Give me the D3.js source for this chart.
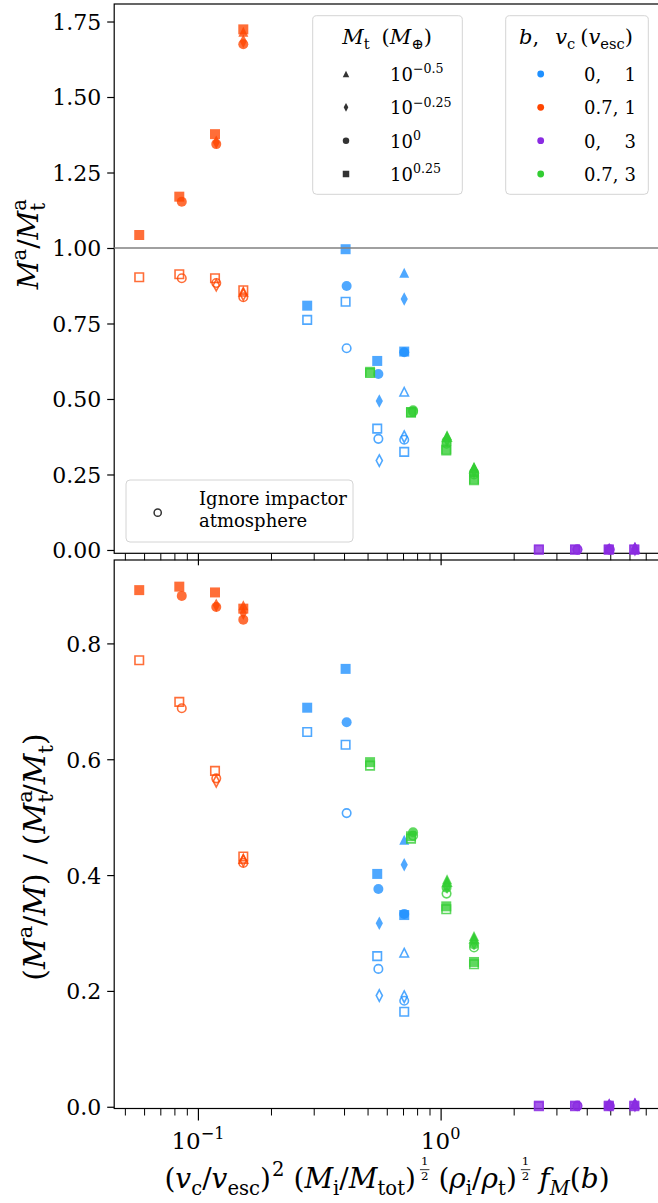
<!DOCTYPE html>
<html>
<head>
<meta charset="utf-8">
<script src="https://cdn.jsdelivr.net/npm/d3@7"></script>
<style>
  body { margin: 0; background: #fff; }
  svg text { font-family: "DejaVu Serif", "Liberation Serif", serif; fill: #000; }
</style>
</head>
<body>
<div id="chart"></div>
<script>
// ---------- data ----------
// legend entries
const groupNames = [["0,", "1"], ["0.7,", "1"], ["0,", "3"], ["0.7,", "3"]];
const groupColors = ["#1e90ff", "#ff4500", "#8a2be2", "#32cd32"];
const massExps = ["−0.5", "−0.25", "0", "0.25"];
const massMarkers = ["^", "d", "o", "s"];

// each point: [marker, x, top filled, top open, bottom filled, bottom open]
const bluePts = [
    ["s", 0.282, 0.809, 0.762, 0.689, 0.647],
    ["s", 0.406, 0.996, 0.822, 0.756, 0.625],
    ["o", 0.410, 0.874, 0.668, 0.664, 0.507],
    ["s", 0.548, 0.626, 0.402, 0.402, 0.260],
    ["o", 0.554, 0.583, 0.368, 0.376, 0.238],
    ["d", 0.559, 0.493, 0.296, 0.317, 0.192],
    ["^", 0.708, 0.918, 0.524, 0.461, 0.266],
    ["d", 0.708, 0.831, 0.375, 0.418, 0.190],
    ["o", 0.708, 0.655, 0.365, 0.333, 0.183],
    ["s", 0.708, 0.657, 0.325, 0.331, 0.164]
];
const orangePts = [
    ["s", 0.0573, 1.043, 0.903, 0.892, 0.771],
    ["s", 0.0838, 1.170, 0.913, 0.898, 0.699],
    ["o", 0.0858, 1.153, 0.900, 0.882, 0.688],
    ["s", 0.1176, 1.377, 0.900, 0.888, 0.580],
    ["d", 0.1190, 1.350, 0.877, 0.866, 0.562],
    ["o", 0.1190, 1.344, 0.884, 0.863, 0.567],
    ["^", 0.1538, 1.716, 0.855, 0.866, 0.428],
    ["d", 0.1538, 1.685, 0.846, 0.852, 0.425],
    ["o", 0.1538, 1.675, 0.837, 0.841, 0.421],
    ["s", 0.1538, 1.724, 0.860, 0.860, 0.432]
];
const purplePts = [
    ["s", 2.54, 0.002, 0.001, 0.002, 0.001],
    ["s", 3.58, 0.002, 0.001, 0.002, 0.001],
    ["o", 3.66, 0.002, 0.001, 0.002, 0.001],
    ["s", 4.93, 0.002, 0.001, 0.002, 0.001],
    ["o", 4.97, 0.002, 0.001, 0.002, 0.001],
    ["^", 4.95, 0.006, 0.004, 0.006, 0.004],
    ["s", 6.28, 0.002, 0.001, 0.002, 0.001],
    ["^", 6.32, 0.006, 0.004, 0.006, 0.004],
    ["d", 6.32, 0.004, 0.003, 0.004, 0.003]
];
const greenPts = [
    ["s", 0.512, 0.590, 0.586, 0.595, 0.589],
    ["s", 0.755, 0.457, 0.455, 0.467, 0.463],
    ["o", 0.770, 0.463, 0.458, 0.474, 0.468],
    ["^", 1.063, 0.380, 0.374, 0.393, 0.388],
    ["d", 1.063, 0.368, 0.364, 0.385, 0.380],
    ["o", 1.058, 0.360, 0.352, 0.378, 0.368],
    ["s", 1.055, 0.333, 0.330, 0.346, 0.341],
    ["^", 1.373, 0.276, 0.270, 0.295, 0.290],
    ["d", 1.373, 0.266, 0.262, 0.288, 0.283],
    ["o", 1.373, 0.256, 0.250, 0.280, 0.275],
    ["s", 1.373, 0.235, 0.231, 0.250, 0.246]
];
const allGroups = [bluePts, orangePts, purplePts, greenPts];

const topTicks = [0, 0.25, 0.5, 0.75, 1.0, 1.25, 1.5, 1.75];
const botTicks = [0, 0.2, 0.4, 0.6, 0.8];
const xMajor = [0.1, 1];
const xMinor = [0.05, 0.06, 0.07, 0.08, 0.09, 0.2, 0.3, 0.4, 0.5, 0.6, 0.7, 0.8, 0.9, 2, 3, 4, 5, 6, 7];

// ---------- set up ----------
const W = 658, H = 1203;
const svg = d3.select("#chart").append("svg").attr("width", W).attr("height", H);

const x = d3.scaleLog().domain([0.04519, 7.865]).range([114.2, 658]);
const yTop = d3.scaleLinear().domain([-0.011, 1.808]).range([553.3, 4]);
const yBot = d3.scaleLinear().domain([-0.003, 0.944]).range([1108.5, 560]);

// little helper that lays out "math" text piece by piece
const I = (t, o = {}) => ({t, i: true, ...o});
const R = (t, o = {}) => ({t, ...o});
const sub = (t, o = {}) => ({t, s: 0.7, d: 0.25, ...o});
const sup = (t, o = {}) => ({t, s: 0.7, d: -0.42, ...o});

function mathText(parent, pieces, size) {
    let g = parent.append("g");
    let cx = 0;
    pieces.forEach(p => {
        if (p.f) {
            // small stacked fraction used as an exponent
            let fs = size * 0.42;
            let a = g.append("text").attr("font-size", fs).attr("y", -size * 0.81).text(p.f[0]);
            let b = g.append("text").attr("font-size", fs).attr("y", -size * 0.27).text(p.f[1]);
            let wa = a.node().getComputedTextLength(), wb = b.node().getComputedTextLength();
            let w = Math.max(wa, wb);
            a.attr("x", cx + 1 + (w - wa) / 2);
            b.attr("x", cx + 1 + (w - wb) / 2);
            g.append("line").attr("x1", cx).attr("x2", cx + w + 2)
                .attr("y1", -size * 0.655).attr("y2", -size * 0.655)
                .attr("stroke", "#000").attr("stroke-width", 0.8);
            cx += w + 2 + (p.gap || 0);
            return;
        }
        let t = g.append("text")
            .attr("x", cx)
            .attr("y", (p.d || 0) * size)
            .attr("font-size", size * (p.s || 1))
            .attr("font-style", p.i ? "italic" : "normal")
            .text(p.t);
        if (!p.na) cx += t.node().getComputedTextLength() + (p.gap || 0);
    });
    g.w = cx;
    return g;
}

function place(g, x0, y0, anchor, rot) {
    let dx = anchor === "middle" ? -g.w / 2 : anchor === "end" ? -g.w : 0;
    g.attr("transform", `translate(${x0},${y0})` + (rot ? ` rotate(${rot})` : "") + ` translate(${dx},0)`);
}

function markerPath(m, s) {
    let h = s / 2;
    if (m === "s") return `M${-h},${-h}H${h}V${h}H${-h}Z`;
    if (m === "o") return d3.symbol(d3.symbolCircle, Math.PI * h * h)();
    if (m === "^") return `M0,${-h}L${h},${h}L${-h},${h}Z`;
    return `M0,${-h * 1.35}L${h * 0.72},0L0,${h * 1.35}L${-h * 0.72},0Z`;
}

// ---------- panels ----------
function drawPanel(y, ticks, fmt, valIdx, showXLabels) {
    let panel = svg.append("g");
    let y0 = y.range()[0];

    // y axis
    let ya = panel.append("g")
        .attr("transform", "translate(114.2,0)")
        .call(d3.axisLeft(y).tickValues(ticks).tickSize(7).tickPadding(6).tickFormat(d3.format(fmt)));
    ya.select(".domain").remove();
    ya.selectAll("line").attr("stroke-width", 1.2);
    ya.selectAll("text").attr("font-size", 22).attr("font-family", "DejaVu Serif").attr("dy", "0.36em");

    // x axis ticks
    let xa = panel.append("g")
        .attr("transform", `translate(0,${y0})`)
        .call(d3.axisBottom(x).tickValues(xMajor.concat(xMinor)).tickFormat(""));
    xa.select(".domain").remove();
    xa.selectAll("line")
        .attr("y2", d => xMajor.includes(d) ? 12 : 7)
        .attr("stroke-width", d => xMajor.includes(d) ? 1.2 : 1);

    if (showXLabels) {
        xMajor.forEach((v, i) => {
            let lab = mathText(panel, [R("10"), sup(i === 0 ? "−1" : "0")], 23);
            place(lab, x(v), y0 + 40, "middle");
        });
    }

    // frame
    panel.append("rect")
        .attr("x", 114.2).attr("y", y.range()[1])
        .attr("width", 660 - 114.2).attr("height", y0 - y.range()[1])
        .attr("fill", "none").attr("stroke", "#000").attr("stroke-width", 1.2);

    // points: filled then open for every group
    let marks = panel.append("g");
    allGroups.forEach((pts, gi) => {
        let col = groupColors[gi];
        marks.selectAll(null)
            .data(pts)
            .enter()
            .append("path")
            .attr("d", d => markerPath(d[0], 10))
            .attr("transform", d => `translate(${x(d[1])},${y(d[valIdx])})`)
            .attr("fill", col)
            .attr("fill-opacity", 0.78);
        marks.selectAll(null)
            .data(pts)
            .enter()
            .append("path")
            .attr("d", d => markerPath(d[0], 8.5))
            .attr("transform", d => `translate(${x(d[1])},${y(d[valIdx + 1])})`)
            .attr("fill", "none")
            .attr("stroke", col)
            .attr("stroke-opacity", 0.78)
            .attr("stroke-width", 1.6);
    });
    return panel;
}

let topPanel = drawPanel(yTop, topTicks, ".2f", 2, false);
let botPanel = drawPanel(yBot, botTicks, ".1f", 4, true);

// reference line at 1
topPanel.append("line")
    .attr("x1", 114.2).attr("x2", 658)
    .attr("y1", yTop(1)).attr("y2", yTop(1))
    .attr("stroke", "#808080").attr("stroke-width", 1.5);

// ---------- axis labels ----------
let ylTop = mathText(svg, [I("M"), sup("a"), R("/"), I("M"), sup("a", {na: true}), sub("t")], 28);
place(ylTop, 38, 246, "middle", -90);

let ylBot = mathText(svg, [R("("), I("M"), sup("a"), R("/"), I("M"), R(")", {gap: 9}), R("/", {gap: 9}),
    R("("), I("M"), sup("a", {na: true}), sub("t"), R("/"), I("M"), sub("t"), R(")")], 30);
place(ylBot, 45, 857, "middle", -90);

let xl = mathText(svg, [R("("), I("v"), sub("c"), R("/"), I("v"), sub("esc"), R(")", {gap: 1}), sup("2", {gap: 9}),
    R("("), I("M"), sub("i"), R("/"), I("M"), sub("tot"), R(")", {gap: 4}), {f: ["1", "2"], gap: 9},
    R("("), I("ρ"), sub("i"), R("/"), I("ρ"), sub("t"), R(")", {gap: 4}), {f: ["1", "2"], gap: 9},
    I("f"), sub("M", {i: true}), R("("), I("b"), R(")")], 28);
place(xl, 387, 1188, "middle");

// ---------- legends ----------
function legendBox(x0, y0, w, h) {
    svg.append("rect")
        .attr("x", x0).attr("y", y0).attr("width", w).attr("height", h)
        .attr("rx", 4)
        .attr("fill", "#fff").attr("fill-opacity", 0.8)
        .attr("stroke", "#d4d4d4").attr("stroke-width", 1);
}
const rowY = [74, 107.3, 140.7, 174];

// target mass legend
legendBox(312.7, 15.7, 149.6, 178.6);
let t1 = mathText(svg, [I("M"), sub("t", {gap: 12}), R("("), I("M"), sub("⊕"), R(")")], 21);
place(t1, 387, 44, "middle");
massMarkers.forEach((m, i) => {
    svg.append("path")
        .attr("d", markerPath(m, 6.5))
        .attr("transform", `translate(346,${rowY[i]})`)
        .attr("fill", "#333");
    let lab = mathText(svg, [R("10"), sup(massExps[i])], 18);
    place(lab, 390, rowY[i] + 7, "start");
});

// impact parameter / speed legend
legendBox(505.7, 15.7, 142.6, 178.6);
let t2 = mathText(svg, [I("b"), R(",", {gap: 16}), I("v"), sub("c", {gap: 5}), R("("), I("v"), sub("esc"), R(")")], 21);
place(t2, 576, 44, "middle");
groupNames.forEach((n, i) => {
    svg.append("circle")
        .attr("cx", 540.7).attr("cy", rowY[i]).attr("r", 3.4)
        .attr("fill", groupColors[i]);
    svg.append("text").attr("x", 584).attr("y", rowY[i] + 7).attr("font-size", 18).text(n[0]);
    svg.append("text").attr("x", 636).attr("y", rowY[i] + 7).attr("font-size", 18)
        .attr("text-anchor", "end").text(n[1]);
});

// open-marker legend
legendBox(126, 480, 227, 62);
svg.append("circle")
    .attr("cx", 157.7).attr("cy", 512.7).attr("r", 3.6)
    .attr("fill", "none").attr("stroke", "#333").attr("stroke-width", 1.5);
svg.append("text").attr("x", 199).attr("y", 505).attr("font-size", 18).text("Ignore impactor");
svg.append("text").attr("x", 199).attr("y", 527).attr("font-size", 18).text("atmosphere");
</script>
</body>
</html>
